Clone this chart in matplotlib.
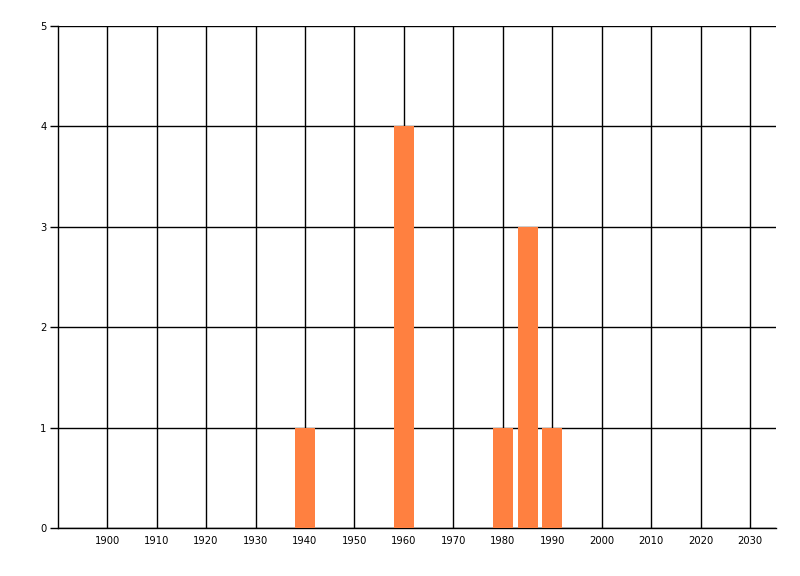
import matplotlib
matplotlib.use("Agg")
import matplotlib.pyplot as plt

years = [1940, 1960, 1980, 1985, 1990]
counts = [1, 4, 1, 3, 1]
xticks = list(range(1900, 2031, 10))

fig = plt.figure(figsize=(8, 5.76), dpi=100)
ax = fig.add_axes([0.072, 0.0833, 0.898, 0.8715])

ax.bar(years, counts, width=4, color="#FF8040", zorder=3)

ax.set_xlim(1890, 2035.2)
ax.set_ylim(0, 5)
ax.set_xticks(xticks)
ax.set_yticks(range(0, 6))
ax.grid(True, color="black", lw=1)
ax.set_axisbelow(True)

for s in ["top", "right"]:
    ax.spines[s].set_visible(False)
for s in ["left", "bottom"]:
    ax.spines[s].set_linewidth(1)

ax.tick_params(axis="x", length=0, pad=6, labelsize=7.2)
ax.tick_params(axis="y", length=6, width=1, pad=2, labelsize=7.2)

fig.savefig("out.png", dpi=100)
